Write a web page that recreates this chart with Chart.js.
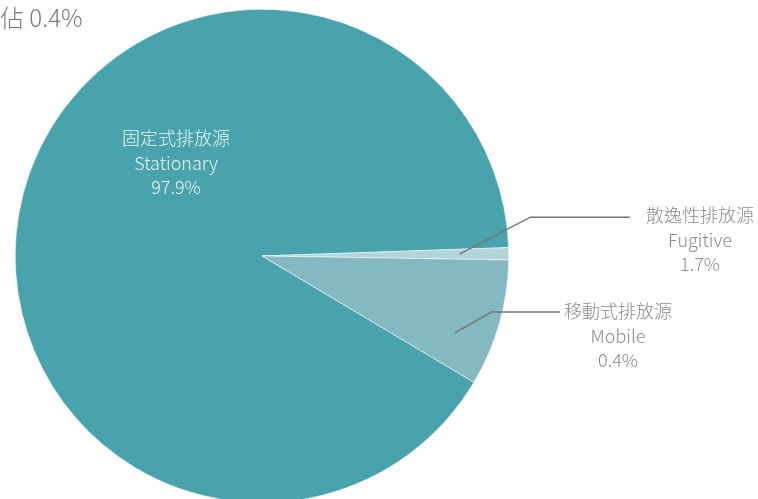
<!DOCTYPE html>
<html>
<head>
<meta charset="utf-8">
<script src="https://cdn.jsdelivr.net/npm/chart.js@4"></script>
<style>
  html, body { margin: 0; padding: 0; overflow: hidden; background: #fff; }
  #wrap { position: relative; width: 758px; height: 499px; }
  #chart { position: absolute; left: 0; top: 0; }
  #note { position: absolute; left: 0; top: -1px; font: 300 24px "Noto Sans CJK TC", "Noto Sans", sans-serif; color: #7a7a7a; }
</style>
</head>
<body>
<div id="wrap">
  <canvas id="chart" width="758" height="520"></canvas>
  <div id="note">佔 0.4%</div>
</div>
<script>
// slice sizes as drawn in the picture (share of the circle, %)
const categories = ["Stationary", "Fugitive", "Mobile"]
const shares = [90.9, 0.8, 8.3]
// label texts printed next to the slices
const zhNames = ["固定式排放源", "散逸性排放源", "移動式排放源"]
const shownPct = ["97.9%", "1.7%", "0.4%"]
const colors = ["#48a3ac", "#b1d5d8", "#84b9c2"]

// where each label sits relative to the pie centre, and where its leader starts
const labelSpots = [
  { dx: -86, dy: -93, color: "#eaf5f6", leader: null },
  { dx: 438, dy: -16, color: "#8a8a8a", leader: { frac: 0.5, r: 0.8, elbow: [71, -37], endX: 630 } },
  { dx: 356, dy: 80, color: "#8a8a8a", leader: { frac: 0.7, r: 0.84, elbow: [37, -21], endX: 560 } }
]

const labelPlugin = {
  id: "sliceLabels",
  afterDraw(chart) {
    const ctx = chart.ctx
    const arcs = chart.getDatasetMeta(0).data
    const cx = arcs[0].x, cy = arcs[0].y
    ctx.save()
    ctx.font = '300 18px "Noto Sans CJK TC", "Noto Sans", sans-serif'
    ctx.textAlign = "center"
    ctx.textBaseline = "middle"
    arcs.forEach((arc, i) => {
      const spot = labelSpots[i]
      const lx = cx + spot.dx, ly = cy + spot.dy
      ctx.fillStyle = spot.color
      ctx.fillText(zhNames[i], lx, ly - 25)
      ctx.fillText(categories[i], lx, ly)
      ctx.fillText(shownPct[i], lx, ly + 24)
      const L = spot.leader
      if (L) {
        const a = arc.startAngle + (arc.endAngle - arc.startAngle) * L.frac
        const sx = cx + Math.cos(a) * arc.outerRadius * L.r
        const sy = cy + Math.sin(a) * arc.outerRadius * L.r
        ctx.strokeStyle = "#777"
        ctx.lineWidth = 1.5
        ctx.beginPath()
        ctx.moveTo(sx, sy)
        ctx.lineTo(sx + L.elbow[0], sy + L.elbow[1])
        ctx.lineTo(L.endX, sy + L.elbow[1])
        ctx.stroke()
      }
    })
    ctx.restore()
  }
}

new Chart(document.getElementById("chart"), {
  type: "pie",
  data: {
    labels: categories,
    datasets: [{
      data: shares,
      backgroundColor: colors,
      borderColor: "#ffffff",
      borderWidth: 0.5,
      hoverOffset: 0
    }]
  },
  options: {
    responsive: false,
    animation: false,
    rotation: 120.8,
    layout: { padding: { left: 15, top: 9, right: 249, bottom: 17 } },
    plugins: {
      legend: { display: false },
      tooltip: { enabled: false }
    }
  },
  plugins: [labelPlugin]
})
</script>
</body>
</html>
